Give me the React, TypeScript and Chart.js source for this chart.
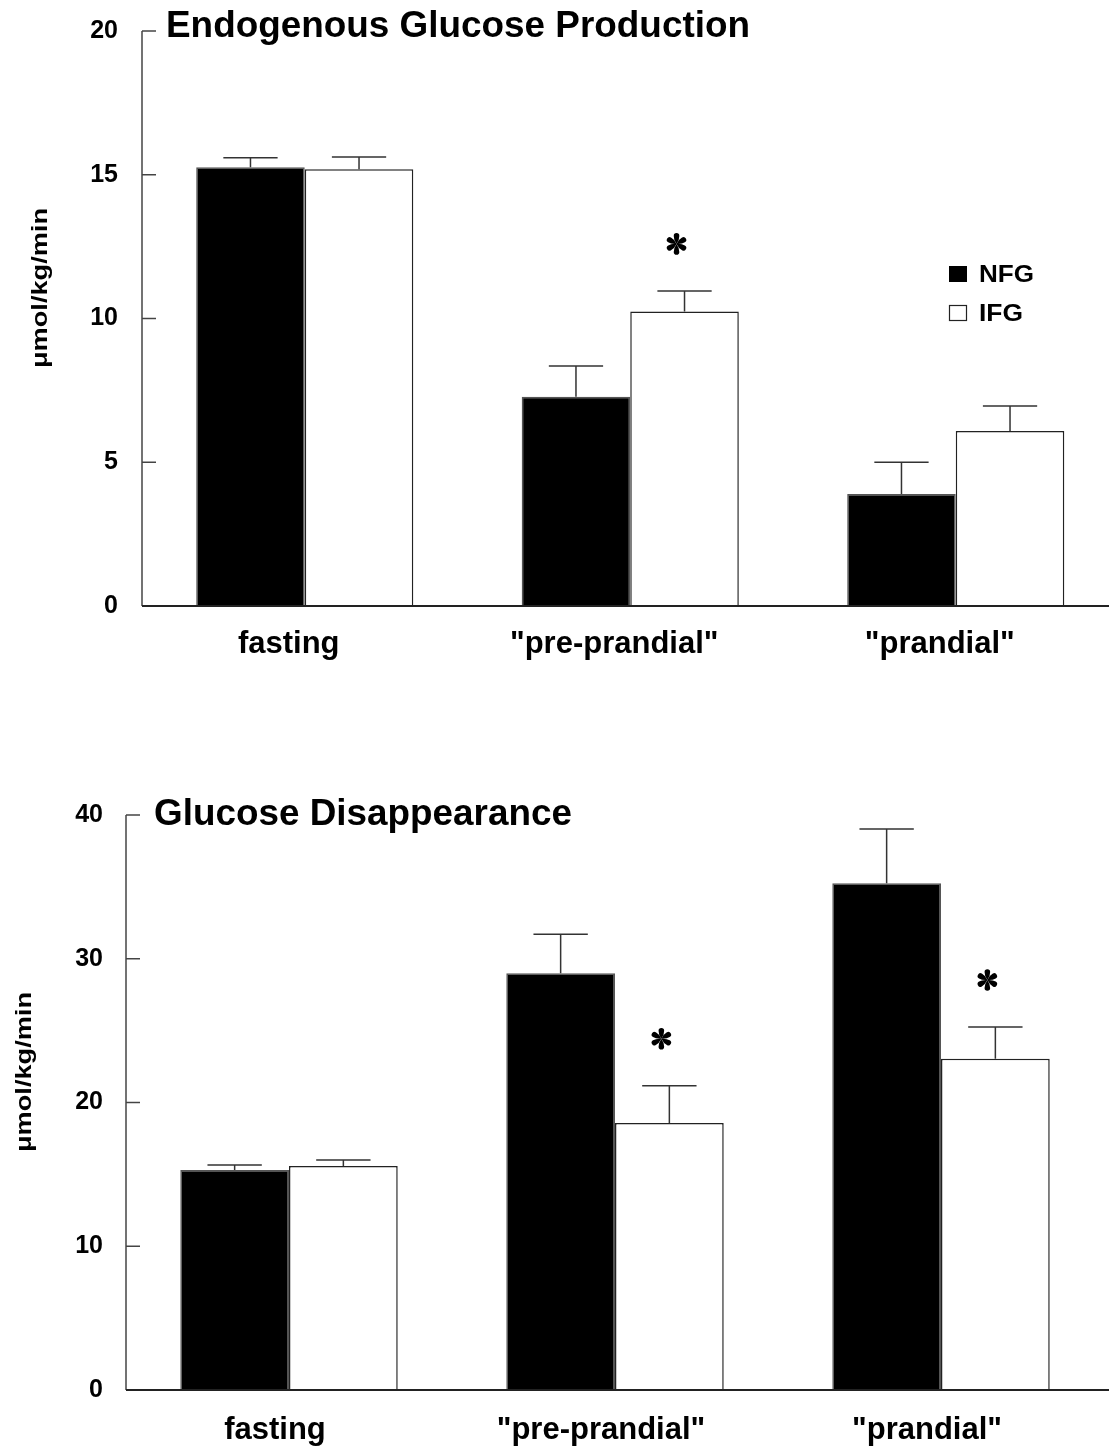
import React, { useEffect, useRef } from "react";
import { Chart, registerables } from "chart.js";

Chart.register(...registerables);

// ---------- data ----------
const categories = ["fasting", '"pre-prandial"', '"prandial"'];
const seriesNames = ["NFG", "IFG"];

// Endogenous glucose production (µmol/kg/min)
const egpTicks = [0, 5, 10, 15, 20];
const egpNFG = [15.26, 7.28, 3.9];
const egpNFGSem = [0.33, 1.07, 1.1];
const egpIFG = [15.19, 10.24, 6.09];
const egpIFGSem = [0.43, 0.72, 0.87];
const egpNFGStars = [false, false, false];
const egpIFGStars = [false, true, false];

// Glucose disappearance (µmol/kg/min)
const rdTicks = [0, 10, 20, 30, 40];
const rdNFG = [15.3, 29.0, 35.25];
const rdNFGSem = [0.35, 2.7, 3.78];
const rdIFG = [15.58, 18.57, 23.05];
const rdIFGSem = [0.42, 2.6, 2.2];
const rdNFGStars = [false, false, false];
const rdIFGStars = [false, true, true];

const yTitle = "μmol/kg/min";
const egpTitle = "Endogenous Glucose Production";
const rdTitle = "Glucose Disappearance";

const SANS = '"Liberation Sans", Arial, sans-serif';

type Spec = {
  canvasTop: number;
  width: number;
  height: number;
  areaLeft: number;
  areaTop: number;
  areaRight: number;
  areaBottom: number;
  title: string;
  titleX: number;
  titleBaseline: number;
  titleWidth: number;
  yTitleX: number;
  yTitleY: number;
  ticks: number[];
  nfg: number[];
  nfgSem: number[];
  ifg: number[];
  ifgSem: number[];
  nfgStars: boolean[];
  ifgStars: boolean[];
  legend: boolean;
  labelOffset: number;
  xPad: number;
  yPad: number;
};

function drawStretched(
  ctx: CanvasRenderingContext2D,
  text: string,
  x: number,
  y: number,
  font: string,
  targetWidth: number,
  align: "left" | "center"
) {
  ctx.save();
  ctx.font = font;
  const w = ctx.measureText(text).width;
  const sx = targetWidth / w;
  ctx.translate(x, y);
  ctx.scale(sx, 1);
  ctx.textAlign = align;
  ctx.textBaseline = "alphabetic";
  ctx.fillStyle = "#000";
  ctx.fillText(text, 0, 0);
  ctx.restore();
}

// six teardrop-petal asterisk, centred on (cx, cy)
function drawStar(ctx: CanvasRenderingContext2D, cx: number, cy: number) {
  ctx.save();
  ctx.translate(cx, cy);
  ctx.fillStyle = "#000";
  for (let k = 0; k < 6; k++) {
    ctx.save();
    ctx.rotate((k * Math.PI) / 3);
    ctx.beginPath();
    ctx.moveTo(0, 0);
    ctx.quadraticCurveTo(-3.0, -4.5, -2.8, -8.0);
    ctx.arc(0, -8.0, 2.8, Math.PI, 2 * Math.PI, false);
    ctx.quadraticCurveTo(3.0, -4.5, 0, 0);
    ctx.closePath();
    ctx.fill();
    ctx.restore();
  }
  ctx.restore();
}

function makeDecor(spec: Spec) {
  return {
    id: "decor",
    afterDatasetsDraw(chart: any) {
      const ctx: CanvasRenderingContext2D = chart.ctx;
      const ys = chart.scales.y;
      const ca = chart.chartArea;
      const vals = [spec.nfg, spec.ifg];
      const sems = [spec.nfgSem, spec.ifgSem];
      const stars = [spec.nfgStars, spec.ifgStars];
      ctx.save();
      for (let d = 0; d < 2; d++) {
        const meta = chart.getDatasetMeta(d);
        meta.data.forEach((el: any, i: number) => {
          const x = el.x;
          const yb = el.y;
          const yt = ys.getPixelForValue(vals[d][i] + sems[d][i]);
          const half = el.width * 0.25;
          ctx.strokeStyle = "#333";
          ctx.lineWidth = 1.5;
          ctx.beginPath();
          ctx.moveTo(x, yb);
          ctx.lineTo(x, yt);
          ctx.moveTo(x - half, yt);
          ctx.lineTo(x + half, yt);
          ctx.stroke();
          if (stars[d][i]) drawStar(ctx, x - 8, yt - 47);
        });
      }
      // y axis line and inward ticks
      ctx.strokeStyle = "#444";
      ctx.lineWidth = 1.5;
      ctx.beginPath();
      ctx.moveTo(ca.left, ca.top);
      ctx.lineTo(ca.left, ca.bottom);
      ctx.stroke();
      spec.ticks.forEach((v) => {
        const y = ys.getPixelForValue(v);
        ctx.beginPath();
        ctx.moveTo(ca.left, y);
        ctx.lineTo(ca.left + 14, y);
        ctx.stroke();
      });
      // x axis line
      ctx.strokeStyle = "#222";
      ctx.lineWidth = 2;
      ctx.beginPath();
      ctx.moveTo(ca.left, ca.bottom);
      ctx.lineTo(chart.width, ca.bottom);
      ctx.stroke();
      ctx.restore();
    },
    afterDraw(chart: any) {
      const ctx: CanvasRenderingContext2D = chart.ctx;
      // title
      drawStretched(ctx, spec.title, spec.titleX, spec.titleBaseline, `bold 37px ${SANS}`, spec.titleWidth, "left");
      // y title
      ctx.save();
      ctx.translate(spec.yTitleX, spec.yTitleY);
      ctx.rotate(-Math.PI / 2);
      drawStretched(ctx, yTitle, 0, 0, `bold 22px ${SANS}`, 160, "center");
      ctx.restore();
      // legend
      if (spec.legend) {
        ctx.save();
        ctx.fillStyle = "#000";
        ctx.fillRect(949, 266, 18, 16);
        ctx.fillStyle = "#fff";
        ctx.strokeStyle = "#222";
        ctx.lineWidth = 1.2;
        ctx.fillRect(949, 305, 18, 16);
        ctx.strokeRect(949.5, 305.5, 17, 15);
        ctx.restore();
        drawStretched(ctx, seriesNames[0], 979, 282, `bold 23px ${SANS}`, 55, "left");
        drawStretched(ctx, seriesNames[1], 979, 321, `bold 23px ${SANS}`, 44, "left");
      }
    },
  };
}

function Panel({ spec }: { spec: Spec }) {
  const ref = useRef<HTMLCanvasElement>(null);
  useEffect(() => {
    if (!ref.current) return;
    const chart = new Chart(ref.current, {
      type: "bar",
      data: {
        labels: categories,
        datasets: [
          {
            label: seriesNames[0],
            data: spec.nfg,
            backgroundColor: "#000",
            borderColor: "#555",
            borderWidth: 1.5,
            categoryPercentage: 0.667,
            barPercentage: 1.0,
          },
          {
            label: seriesNames[1],
            data: spec.ifg,
            backgroundColor: "#fff",
            borderColor: "#222",
            borderWidth: 1.5,
            categoryPercentage: 0.667,
            barPercentage: 1.0,
          },
        ],
      },
      options: {
        animation: false,
        responsive: false,
        maintainAspectRatio: false,
        devicePixelRatio: 1,
        layout: {
          padding: {
            top: spec.areaTop,
            left: 0,
            right: spec.width - spec.areaRight,
            bottom: 0,
          },
        },
        plugins: {
          legend: { display: false },
          tooltip: { enabled: false },
          title: { display: false },
        },
        scales: {
          x: {
            type: "category",
            grid: { display: false, drawTicks: false },
            border: { display: false },
            ticks: {
              color: "#000",
              font: { family: SANS, size: 31, weight: "bold" },
              padding: spec.xPad,
              labelOffset: spec.labelOffset,
              maxRotation: 0,
              autoSkip: false,
            },
            afterFit: (s: any) => {
              s.height = spec.height - spec.areaBottom;
              s.paddingLeft = 0;
              s.paddingRight = 0;
            },
          },
          y: {
            type: "linear",
            min: spec.ticks[0],
            max: spec.ticks[spec.ticks.length - 1],
            grid: { display: false, drawTicks: false },
            border: { display: false },
            ticks: {
              color: "#000",
              font: { family: SANS, size: 25, weight: "bold" },
              padding: spec.yPad,
            },
            afterBuildTicks: (s: any) => {
              s.ticks = spec.ticks.map((v) => ({ value: v }));
            },
            afterFit: (s: any) => {
              s.width = spec.areaLeft;
              s.paddingTop = 0;
              s.paddingBottom = 0;
            },
          },
        },
      } as any,
      plugins: [makeDecor(spec)],
    });
    return () => chart.destroy();
  }, [spec]);
  return (
    <canvas
      ref={ref}
      width={spec.width}
      height={spec.height}
      style={{
        position: "absolute",
        left: 0,
        top: spec.canvasTop,
        width: spec.width,
        height: spec.height,
      }}
    />
  );
}

const topSpec: Spec = {
  canvasTop: 0,
  width: 1130,
  height: 700,
  areaLeft: 142,
  areaTop: 31,
  areaRight: 1118.5,
  areaBottom: 606,
  title: egpTitle,
  titleX: 166,
  titleBaseline: 37,
  titleWidth: 584,
  yTitleX: 47,
  yTitleY: 288,
  ticks: egpTicks,
  nfg: egpNFG,
  nfgSem: egpNFGSem,
  ifg: egpIFG,
  ifgSem: egpIFGSem,
  nfgStars: egpNFGStars,
  ifgStars: egpIFGStars,
  legend: true,
  labelOffset: -16,
  xPad: 20,
  yPad: 24,
};

const bottomSpec: Spec = {
  canvasTop: 700,
  width: 1130,
  height: 749,
  areaLeft: 126,
  areaTop: 115,
  areaRight: 1104,
  areaBottom: 690,
  title: rdTitle,
  titleX: 154,
  titleBaseline: 125,
  titleWidth: 418,
  yTitleX: 31,
  yTitleY: 372,
  ticks: rdTicks,
  nfg: rdNFG,
  nfgSem: rdNFGSem,
  ifg: rdIFG,
  ifgSem: rdIFGSem,
  nfgStars: rdNFGStars,
  ifgStars: rdIFGStars,
  legend: false,
  labelOffset: -14,
  xPad: 22,
  yPad: 23,
};

export default function App() {
  return (
    <div
      style={{
        position: "absolute",
        left: 0,
        top: 0,
        width: 1109,
        height: 1449,
        overflow: "hidden",
        background: "#fff",
      }}
    >
      <Panel spec={topSpec} />
      <Panel spec={bottomSpec} />
    </div>
  );
}
